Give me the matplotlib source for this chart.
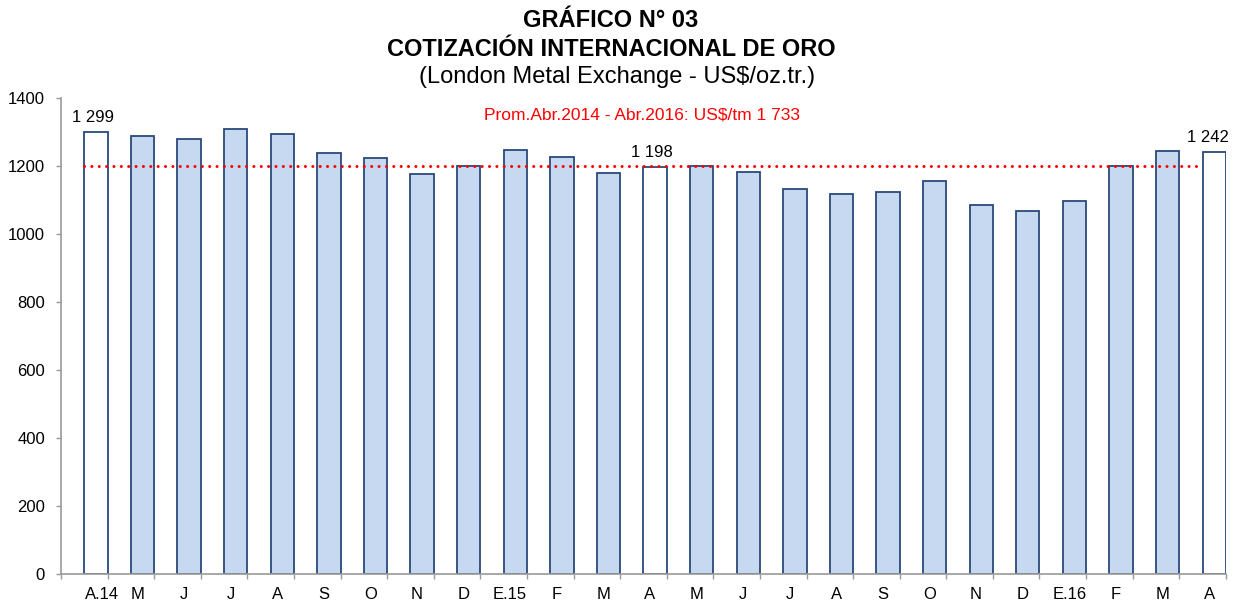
# -*- coding: utf-8 -*-
"""Gráfico de barras con la cotización internacional del oro (abr.2014 - abr.2016)."""
import numpy as np
import matplotlib
matplotlib.use('Agg')
import matplotlib.pyplot as plt

plt.rcParams['font.family'] = ['Liberation Sans', 'DejaVu Sans']

meses = ['A.14', 'M', 'J', 'J', 'A', 'S', 'O', 'N', 'D', 'E.15', 'F', 'M', 'A',
         'M', 'J', 'J', 'A', 'S', 'O', 'N', 'D', 'E.16', 'F', 'M', 'A']
cotizacion = [1299, 1287, 1278, 1309, 1295, 1239, 1222, 1176, 1201, 1248, 1227,
              1178, 1198, 1199, 1181, 1131, 1118, 1123, 1157, 1086, 1068, 1097,
              1199, 1245, 1242]
# barras resaltadas (sin relleno) y con etiqueta de valor
resaltadas = [0, 12, 24]
etiquetas = ['1 299', '1 198', '1 242']
promedio = 1200
texto_promedio = 'Prom.Abr.2014 - Abr.2016: US$/tm 1 733'

AZUL_CLARO = '#C6D9F1'
AZUL_BORDE = '#294A7A'
GRIS = '#9A9A9A'


def dibuja_grafico():
    fig = plt.figure(figsize=(12.37, 6.05), dpi=100)
    ax = fig.add_axes([0.0493, 0.0512, 0.9417, 0.787])

    x = np.arange(len(meses))
    # como en Excel, cada barra ocupa la mitad derecha de su categoría
    pos_barras = x + 0.25
    colores = [('white' if i in resaltadas else AZUL_CLARO) for i in x]
    ax.bar(pos_barras, cotizacion, width=0.5, color=colores,
           edgecolor=AZUL_BORDE, linewidth=1.3, zorder=2)

    # línea del promedio
    ax.plot([0.0, 23.86], [promedio, promedio], color='#FF0000', lw=2.2,
            ls=(0, (0.01, 2.4)), dash_capstyle='round', zorder=3)
    ax.text(11.98, 1350, texto_promedio, color='#FF0000', fontsize=12.5,
            ha='center', va='center')

    for i, et in zip(resaltadas, etiquetas):
        dx = -0.13 if i == 24 else -0.07
        ax.text(pos_barras[i] + dx, cotizacion[i] + 20, et, fontsize=12,
                ha='center', va='bottom')

    ax.set_xlim(-0.5, len(meses) - 0.5)
    ax.set_ylim(0, 1400)
    ax.set_yticks(np.arange(0, 1401, 200))
    pos_etiq = x + 0.14
    pos_etiq[0] += 0.24
    ax.set_xticks(pos_etiq)
    ax.set_xticklabels(meses)
    ax.set_xticks(np.arange(-0.5, len(meses), 1), minor=True)
    ax.tick_params(axis='x', which='major', length=0, labelsize=12, pad=9)
    ax.tick_params(axis='x', which='minor', length=3.5, color=GRIS, width=1)
    ax.tick_params(axis='y', length=3.5, color=GRIS, width=1, labelsize=12,
                   pad=8)

    for lado in ['top', 'right']:
        ax.spines[lado].set_visible(False)
    for lado in ['left', 'bottom']:
        ax.spines[lado].set_color(GRIS)
        ax.spines[lado].set_linewidth(1.2)

    fig.text(0.494, 0.9554, 'GRÁFICO N° 03', fontsize=17, fontweight='bold',
             ha='center', va='baseline')
    fig.text(0.494, 0.9074, 'COTIZACIÓN INTERNACIONAL DE ORO', fontsize=17,
             fontweight='bold', ha='center', va='baseline')
    fig.text(0.499, 0.8628, '(London Metal Exchange - US$/oz.tr.)', fontsize=17,
             ha='center', va='baseline')

    fig.savefig('out.png', dpi=100)


if __name__ == '__main__':
    dibuja_grafico()
